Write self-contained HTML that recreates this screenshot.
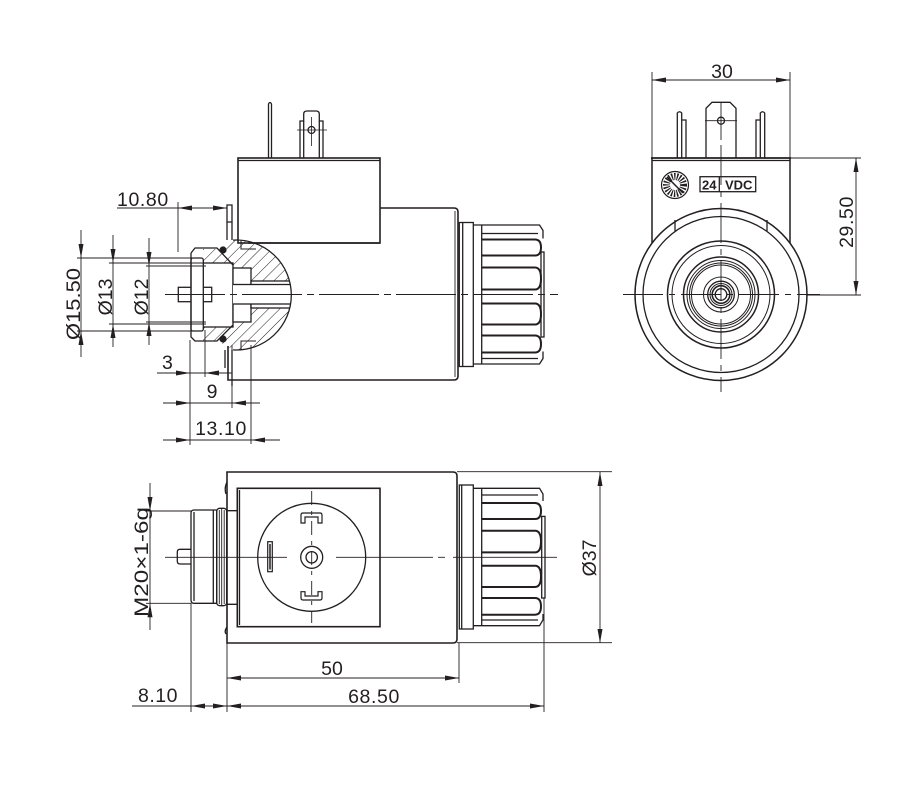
<!DOCTYPE html>
<html><head><meta charset="utf-8"><style>
html,body{margin:0;padding:0;background:#fff;}
svg{display:block;}
text{font-family:"Liberation Sans","DejaVu Sans",sans-serif;fill:#231f20;}
</style></head><body>
<svg width="900" height="800" viewBox="0 0 900 800" xmlns="http://www.w3.org/2000/svg">
<defs>
<pattern id="h" width="8" height="8" patternUnits="userSpaceOnUse" patternTransform="rotate(45)">
<line x1="0" y1="0" x2="0" y2="8" stroke="#231f20" stroke-width="1"/>
</pattern>
<clipPath id="hc">
<path d="M233,240.1 A55,55 0 1 1 233,349.9 Z"/>
<path d="M203,249 L218,249 L228,243 L233,240 L233,263 L203,263 Z"/>
<path d="M203,341 L218,341 L228,347 L233,350 L233,327 L203,327 Z"/>
</clipPath>
<clipPath id="cc"><path d="M233,240.1 A55,55 0 1 1 233,349.9 Z"/></clipPath>
</defs>
<rect width="900" height="800" fill="#fff"/>

<!-- ================= FRONT VIEW ================= -->
<g fill="none" stroke="#231f20" stroke-width="1.3">
<path d="M268.5,158 V104 Q270,101 271.5,104 V158"/>
<path d="M300,158 V121 H303.7 V114 Q303.7,111 307,111 H316 Q319.3,111 319.3,114 V121 H323 V158"/>
<path d="M303.7,121 V158 M319.3,121 V158"/>
<circle cx="311.5" cy="130" r="3.5"/>
<path d="M297,130 H327 M311.5,117 V146" stroke-width="0.8"/>
<rect x="238" y="158" width="142" height="85" stroke-width="1.6"/>
<line x1="238" y1="160.5" x2="380" y2="160.5"/>
<path d="M380,208 H454 Q458,208 458,212 V376 Q458,380 454,380 H228 V346" stroke-width="1.6"/>
<line x1="455" y1="211" x2="455" y2="377" stroke-width="0.9"/>
<path d="M227,205 H232 V222 H227 Z"/>
<path d="M227,222 V240 M232,222 V240"/>
<path d="M225,350 V368 M232,350 V386"/>
</g>

<g clip-path="url(#hc)"><rect x="185" y="230" width="110" height="130" fill="url(#h)"/></g>
<g fill="#fff" stroke="#231f20" stroke-width="1.3">
<rect x="203" y="263" width="30" height="64"/>
<rect x="233" y="268" width="18" height="54"/>
<g clip-path="url(#cc)"><rect x="251" y="281" width="45" height="27"/></g>
<g clip-path="url(#cc)"><rect x="211.7" y="284.5" width="80" height="19.5"/></g>
<rect x="178.3" y="287.3" width="33.4" height="14.4"/>
<rect x="191" y="258" width="12.3" height="73" rx="2"/>
</g>
<g fill="none" stroke="#231f20" stroke-width="1.3">
<path d="M233,240.1 A55,55 0 1 1 233,349.9"/>
<path d="M191,253 L195,248 H217 L233,265"/>
<path d="M191,253 V337 L195,341 H217 L233,325"/>
<path d="M241,240 V249 H256 M241,350 V341 H256" stroke-width="1"/>
<path d="M248,243 H380" stroke-width="1.6"/>
</g>
<circle cx="223" cy="250" r="3.6" fill="#231f20"/>
<circle cx="223" cy="339" r="3.6" fill="#231f20"/>

<g fill="none" stroke="#231f20" stroke-width="1.3" transform="translate(0,294.5)">
<rect x="459.3" y="-72" width="14" height="144"/>
<line x1="462.7" y1="-72" x2="462.7" y2="72"/>
<path d="M473.3,-69.5 H539.5 L543,-64 V-56"/>
<path d="M473.3,69.5 H539.5 L543,64 V57"/>
<line x1="481.7" y1="-69.5" x2="481.7" y2="69.5"/>
<line x1="481.7" y1="-61" x2="538" y2="-61"/>
<line x1="481.7" y1="64" x2="538" y2="64"/>
<g stroke-width="2">
<path d="M481.7,-55 H535 Q541,-55 541,-47 Q541,-39 535,-39 H481.7"/>
<path d="M481.7,-27 H535 Q541,-27 541,-16 Q541,-5 535,-5 H481.7"/>
<path d="M481.7,9 H535 Q541,9 541,19.5 Q541,30 535,30 H481.7"/>
<path d="M481.7,41 H535 Q541,41 541,49.5 Q541,58 535,58 H481.7"/>
</g>
<rect x="541" y="-42.5" width="3" height="85"/>
</g>

<line x1="165" y1="294.5" x2="558" y2="294.5" stroke="#231f20" stroke-width="0.9" stroke-dasharray="60 5 7 5"/>

<g fill="none" stroke="#231f20" stroke-width="0.9">
<path d="M117,208 H227 M178,202 V252"/>
<path d="M81,230 V357 M77,258 H200 M77,331 H200"/>
<path d="M113,235 V347 M109,263 H206 M109,324 H206"/>
<path d="M149,238 V345 M146,266 H206 M146,322 H206"/>
<path d="M157,373 H232 M190,340 V445 M205,330 V377"/>
<path d="M163,403 H260 M232,345 V408"/>
<path d="M163,440 H280 M251,345 V444"/>
</g>
<g fill="#231f20">
<path d="M178,208 l14,-2.5 v5 z"/><path d="M227,208 l-14,-2.5 v5 z"/>
<path d="M81,258 l-2.5,-14 h5 z"/><path d="M81,331 l-2.5,14 h5 z"/>
<path d="M113,263 l-2.5,-14 h5 z"/><path d="M113,324 l-2.5,14 h5 z"/>
<path d="M149,266 l-2.5,-14 h5 z"/><path d="M149,322 l-2.5,14 h5 z"/>
<path d="M190,373 l-14,-2.5 v5 z"/><path d="M205,373 l14,-2.5 v5 z"/>
<path d="M190,403 l-14,-2.5 v5 z"/><path d="M232,403 l14,-2.5 v5 z"/>
<path d="M190,440 l-14,-2.5 v5 z"/><path d="M251,440 l14,-2.5 v5 z"/>
</g>
<g font-size="19.5">
<text x="117" y="206" letter-spacing="0.6">10.80</text>
<text x="162" y="369">3</text>
<text x="212" y="398" text-anchor="middle">9</text>
<text x="221" y="435" text-anchor="middle" letter-spacing="0.6">13.10</text>
<text transform="translate(80,304) rotate(-90)" text-anchor="middle" textLength="72" lengthAdjust="spacingAndGlyphs">Ø15.50</text>
<text transform="translate(112,297) rotate(-90)" text-anchor="middle">Ø13</text>
<text transform="translate(148,297) rotate(-90)" text-anchor="middle">Ø12</text>
</g>

<!-- ================= RIGHT VIEW ================= -->
<g fill="none" stroke="#231f20" stroke-width="1.3">
<path d="M677.3,158 V113 Q679.5,110.5 681.7,113 V158 M681.7,120 H686 V158"/>
<path d="M764.7,158 V113 Q762.5,110.5 760.3,113 V158 M760.3,120 H756 V158"/>
<path d="M706,158 V108.3 L712,102.3 H730 L736,108.3 V158"/>
<circle cx="721" cy="120.7" r="3.5"/>
<path d="M705,120.7 H737" stroke-width="0.8"/>
<path d="M651,158 H791" stroke-width="1.8"/>
<path d="M652,160.5 H790"/>
<path d="M652,158 V243 M790,158 V243" stroke-width="1.5"/>
<path d="M675,220 V231 M767,220 V231"/>
<rect x="700" y="176.7" width="55.7" height="15"/>
<line x1="719.3" y1="176.7" x2="719.3" y2="191.7"/>
<circle cx="675" cy="185" r="13.5" stroke-width="1.2"/>
<circle cx="675" cy="185" r="8.5" stroke-width="7" stroke-dasharray="1.3 1.3"/>
<path d="M667,177 L683,193" stroke-width="1.5"/>
<g transform="translate(721,294.5)">
<circle r="86" stroke-width="1.5"/>
<circle r="78" stroke-width="1.3"/>
<circle r="53.5" stroke-width="1.5"/>
<circle r="49" stroke-width="1"/>
<circle r="37.5" stroke-width="1.5"/>
<circle r="34" stroke-width="1"/>
<circle r="31.5" stroke-width="1"/>
<circle r="29.5" stroke-width="1"/>
<circle r="17.5" stroke-width="1"/>
<circle r="13.3" stroke-width="1.3"/>
<circle r="11" stroke-width="1"/>
<circle r="8.8" stroke-width="1.6"/>
<circle r="5.8" stroke-width="1.3"/>
</g>
</g>
<g fill="none" stroke="#231f20" stroke-width="0.9">
<path d="M721,103 V140"/>
<line x1="721" y1="145" x2="721" y2="392" stroke-dasharray="40 6 6 6"/>
<line x1="623" y1="294.5" x2="820" y2="294.5" stroke-dasharray="40 6 6 6"/>
<path d="M652,72 V158 M790,72 V158 M652,80 H790"/>
<path d="M790,158 H861 M806,295 H861 M856,158 V295"/>
</g>
<g fill="#231f20">
<path d="M652,80 l14,-2.5 v5 z"/><path d="M790,80 l-14,-2.5 v5 z"/>
<path d="M856,158 l-2.5,14 h5 z"/><path d="M856,295 l-2.5,-14 h5 z"/>
</g>
<text x="702" y="189.5" font-size="13" font-weight="bold">24</text>
<text x="725" y="189.5" font-size="13" font-weight="bold">VDC</text>
<text x="722" y="78" font-size="19.5" text-anchor="middle">30</text>
<text transform="translate(853,222) rotate(-90)" font-size="19.5" text-anchor="middle" letter-spacing="0.6">29.50</text>

<!-- ================= BOTTOM VIEW ================= -->
<g fill="none" stroke="#231f20" stroke-width="1.3">
<path d="M227,472 H453 Q457,472 457,476 V639 Q457,643 453,643 H227 Z" stroke-width="1.6"/>
<path d="M227,482 Q224,488 226,494 M227,627 Q224,631 226,634"/>
<rect x="237.3" y="488.3" width="142.7" height="138.4" stroke-width="1.6"/>
<line x1="239.5" y1="490" x2="239.5" y2="625"/>
<circle cx="311.7" cy="557.3" r="54"/>
<circle cx="311.7" cy="557.3" r="11"/>
<circle cx="311.7" cy="557.3" r="5.7"/>
<rect x="267.7" y="541.7" width="4.6" height="30" stroke-width="1.2"/>
<line x1="270" y1="544" x2="270" y2="569.5" stroke-width="1.5"/>
<path d="M301,523 V515 Q301,513 303,513 H320 Q322,513 322,515 V523 H318 V517 H305 V523 Z" stroke-width="1.2"/>
<path d="M301,591.7 V598 Q301,600 303,600 H320 Q322,600 322,598 V591.7 H318 V596 H305 V591.7 Z" stroke-width="1.2"/>
<path d="M194,510 H216.7 V603.3 H194 Q191,603.3 191,600 V513.3 Q191,510 194,510 Z"/>
<path d="M194,512 V601 M213.3,510 V603.3"/>
<rect x="216.7" y="508.3" width="10" height="97.4" rx="3"/>
<path d="M219.3,510 V604 M221.7,509 V605 M224.2,510 V604" stroke-width="0.9"/>
<path d="M226.7,510.7 H237.3 M226.7,604.3 H237.3"/>
<path d="M191,549.3 H180 Q177.3,549.3 177.3,552 V561.3 Q177.3,564 180,564 H191"/>
</g>
<g fill="none" stroke="#231f20" stroke-width="1.3" transform="translate(0,557)">
<rect x="459.3" y="-72" width="14" height="144"/>
<line x1="461.7" y1="-72" x2="461.7" y2="72"/>
<path d="M473.3,-68.7 H539.5 L543,-63 V-56"/>
<path d="M473.3,68.7 H539.5 L543,63 V57"/>
<line x1="481.7" y1="-68.7" x2="481.7" y2="68.7"/>
<line x1="481.7" y1="-62" x2="538" y2="-62"/>
<line x1="481.7" y1="63" x2="538" y2="63"/>
<g stroke-width="2">
<path d="M481.7,-54 H535 Q541,-54 541,-46 Q541,-38 535,-38 H481.7"/>
<path d="M481.7,-26.3 H535 Q541,-26.3 541,-15.5 Q541,-4.6 535,-4.6 H481.7"/>
<path d="M481.7,8.7 H535 Q541,8.7 541,19.3 Q541,30 535,30 H481.7"/>
<path d="M481.7,41 H535 Q541,41 541,49.3 Q541,57.7 535,57.7 H481.7"/>
</g>
<rect x="541.7" y="-40.6" width="3.3" height="81.6"/>
</g>
<g fill="none" stroke="#231f20" stroke-width="0.9">
<path d="M165,557.3 H287 M336,557.3 H433 M438,557.3 H445 M453,557.3 H557"/>
<line x1="311.7" y1="491" x2="311.7" y2="623" stroke-dasharray="14 6 4 6"/>
</g>
<g fill="none" stroke="#231f20" stroke-width="0.9">
<path d="M150,483 V630 M146,511 H191 M146,603.3 H191"/>
<path d="M457,471.7 H612 M457,642.7 H612 M600,472 V643"/>
<path d="M227,678 H459 M459,643 V683"/>
<path d="M132,706 H544 M544,598 V712 M227,643 V712 M191,603 V712"/>
</g>
<g fill="#231f20">
<path d="M150,511 l-2.5,-14 h5 z"/><path d="M150,603.3 l-2.5,14 h5 z"/>
<path d="M600,472 l-2.5,14 h5 z"/><path d="M600,643 l-2.5,-14 h5 z"/>
<path d="M227,678 l14,-2.5 v5 z"/><path d="M459,678 l-14,-2.5 v5 z"/>
<path d="M227,706 l14,-2.5 v5 z"/><path d="M544,706 l-14,-2.5 v5 z"/>
<path d="M191,706 l14,-2.5 v5 z"/><path d="M227,706 l-14,-2.5 v5 z"/>
</g>
<g font-size="19.5">
<text transform="translate(148,562) rotate(-90)" text-anchor="middle" textLength="110" lengthAdjust="spacingAndGlyphs">M20×1-6g</text>
<text transform="translate(596,558) rotate(-90)" text-anchor="middle">Ø37</text>
<text x="332" y="675" text-anchor="middle">50</text>
<text x="374" y="703" text-anchor="middle" letter-spacing="0.6">68.50</text>
<text x="138" y="702" letter-spacing="0.5">8.10</text>
</g>
</svg>
</body></html>
